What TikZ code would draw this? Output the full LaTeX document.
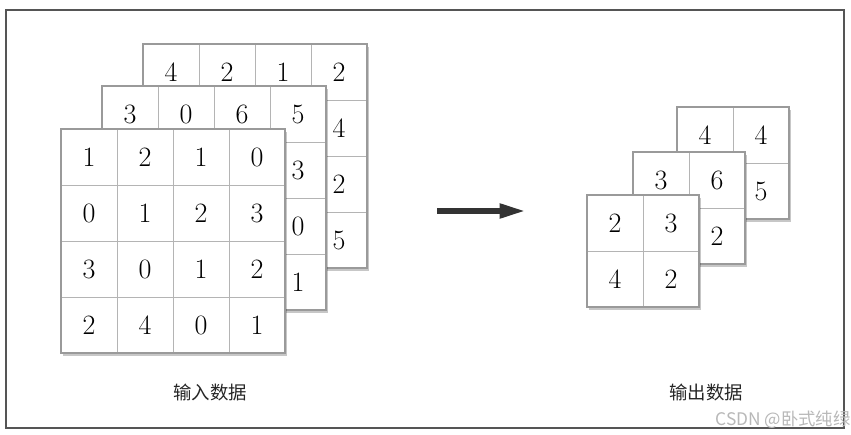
\documentclass[tikz,border=0pt]{standalone}
\usepackage{fontspec}
\newfontfamily\cjk{Noto Sans CJK SC}
\newfontfamily\wmfont{Noto Sans CJK SC}
\usetikzlibrary{arrows.meta}
\definecolor{gridcol}{HTML}{B4B4B4}
\definecolor{edgecol}{HTML}{9A9A9A}
\definecolor{framecol}{HTML}{555555}
\definecolor{arrowcol}{HTML}{333333}
\tikzset{
  cell/.style={rectangle, draw=gridcol, fill=white, line width=0.6pt,
    minimum size=42pt, inner sep=0pt, font=\fontsize{21}{23}\selectfont},
  layershadow/.style={fill=black, opacity=0.22},
  layeredge/.style={draw=edgecol, line width=0.8pt},
  caption/.style={font=\cjk\fontsize{13.8}{15}\selectfont, text=black!85},
}
\newcommand\mylayer[5]{%
  \fill[layershadow] (#2+1.5,#3+3) rectangle (#2+#4*56+1.5,#3+#4*56+3);
  \foreach \v [count=\i from 0] in {#5} {%
    \pgfmathtruncatemacro\rr{div(\i,#4)}%
    \pgfmathtruncatemacro\cc{mod(\i,#4)}%
    \node[cell] (#1-\rr-\cc) at ({#2+28+56*\cc},{#3+28+56*\rr}) {\v};
  }
  \draw[layeredge] (#2,#3) rectangle (#2+#4*56,#3+#4*56);
}
\begin{document}
\begin{tikzpicture}[x=0.75pt,y=-0.75pt]
\useasboundingbox (0,0) rectangle (851,435);
\fill[white] (0,0) rectangle (851,435);
\draw[framecol, line width=0.9pt] (6,10) rectangle (844,428);

% input layers
\mylayer{inC}{143}{44}{4}{4,2,1,2,{},{},{},4,{},{},{},2,{},{},{},5}
\mylayer{inB}{102}{86}{4}{3,0,6,5,{},{},{},3,{},{},{},0,{},{},{},1}
\mylayer{inA}{61}{129}{4}{1,2,1,0,0,1,2,3,3,0,1,2,2,4,0,1}

% output layers
\mylayer{outC}{677}{107}{2}{4,4,{},5}
\mylayer{outB}{633}{152}{2}{3,6,{},2}
\mylayer{outA}{587}{195}{2}{2,3,4,2}

% arrow
\coordinate (arrS) at (437,211);
\coordinate (arrE) at (525,211);
\draw[arrowcol, line width=3.8pt, -{Triangle[length=19pt,width=10.5pt]}] (arrS) -- (arrE);

% captions
\node[caption] (capIn) at (210,393) {输入数据};
\node[caption] (capOut) at (706,393) {输出数据};

% watermark
\node[font=\wmfont\fontsize{13}{15}\selectfont, text=black!28] (wm) at (783,420) {CSDN @卧式纯绿};
\end{tikzpicture}
\end{document}
